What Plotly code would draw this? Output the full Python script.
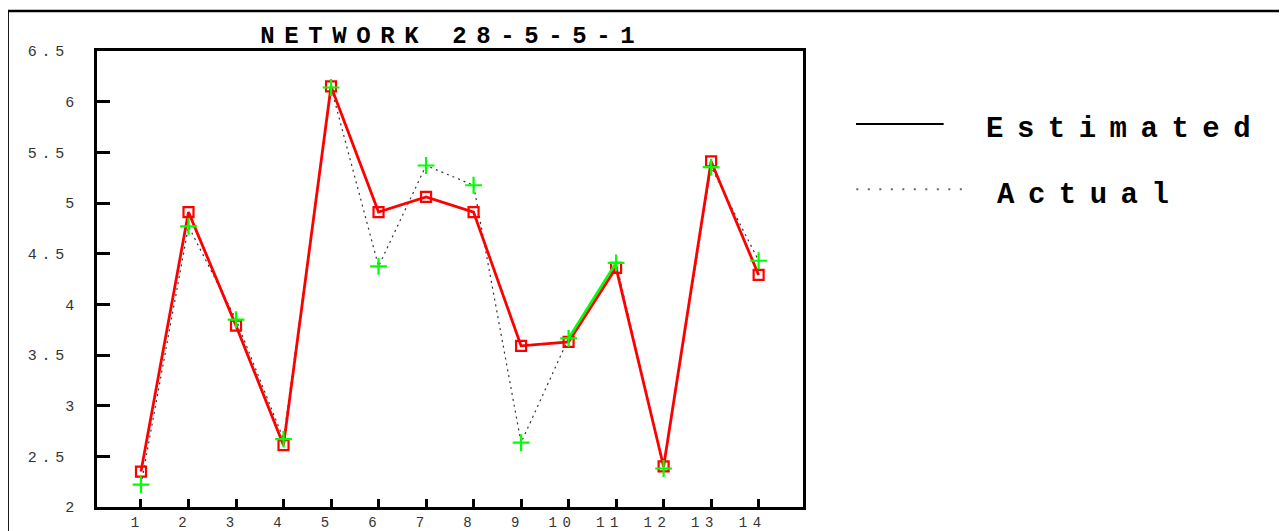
import plotly.graph_objects as go

# ---- data ----
samples = list(range(1, 15))
estimated = [2.35, 4.91, 3.79, 2.61, 6.15, 4.91, 5.06, 4.91, 3.59, 3.63, 4.36, 2.40, 5.41, 4.29]
actual = [2.22, 4.77, 3.85, 2.67, 6.14, 4.375, 5.37, 5.175, 2.635, 3.665, 4.41, 2.38, 5.355, 4.43]
x_tick_labels = ["1", "2", "3", "4", "5", "6", "7", "8", "9", "10", "11", "12", "13", "14"]
y_tick_values = [2, 2.5, 3, 3.5, 4, 4.5, 5, 5.5, 6, 6.5]
title_text = "NETWORK 28-5-5-1"
legend_names = ["Estimated", "Actual"]

# ---- layout geometry ----
OFF = 8  # default page body margin
W, H = 1287 - OFF, 531 - OFF
PL, PR, PT, PB = 97, 802.7, 51, 507  # plot box in window pixels
ML, MT = PL - OFF, PT - OFF
MR = W - (PR - OFF)
MB = H - (PB - OFF)
PW, PH = W - ML - MR, H - MT - MB
FONT = "Liberation Mono"


def px2x(px):
    return (px - OFF - ML) / PW


def py2y(py):
    return (H - MB - (py - OFF)) / PH


def spaced(s, ls):
    return f'<span style="letter-spacing:{ls}px">{s}</span>'


def xlab(s):
    return spaced(s, 5.6) if len(s) > 1 else s


def ylab(v):
    if float(v).is_integer():
        return str(int(v))
    t = f"{v:g}"
    return spaced(t[:-1], 4.7) + spaced(t[-1], 10)


fig = go.Figure()

# Actual: dotted line
fig.add_trace(go.Scatter(
    x=samples, y=actual, mode="lines", name=legend_names[1], showlegend=False,
    line=dict(color="#333333", width=1.2, dash="2px,4px"),
))
# Estimated: red line with open squares
fig.add_trace(go.Scatter(
    x=samples, y=estimated, mode="lines+markers", name=legend_names[0], showlegend=False,
    line=dict(color="#ff0000", width=2.8),
    marker=dict(symbol="square-open", size=10, color="#ff0000", line=dict(width=2.2, color="#ff0000")),
))
# green segment of actual between samples 10 and 11
fig.add_trace(go.Scatter(
    x=samples[9:11], y=actual[9:11], mode="lines", showlegend=False, hoverinfo="skip",
    line=dict(color="#00ff00", width=2.5),
))
# Actual markers
fig.add_trace(go.Scatter(
    x=samples, y=actual, mode="markers", name=legend_names[1] + " points", showlegend=False,
    marker=dict(symbol="cross-thin", size=12, color="#00ff00", line=dict(width=2.2, color="#00ff00")),
))

shapes = [
    # outer frame
    dict(type="line", xref="paper", yref="paper", x0=px2x(7.7), x1=px2x(7.7), y0=py2y(11), y1=py2y(560),
         line=dict(color="black", width=2.5)),
    dict(type="line", xref="paper", yref="paper", x0=px2x(7.7), x1=px2x(1320), y0=py2y(11), y1=py2y(11),
         line=dict(color="black", width=2.5)),
    # legend keys
    dict(type="line", xref="paper", yref="paper", x0=px2x(855.7), x1=px2x(943.3), y0=py2y(124), y1=py2y(124),
         line=dict(color="black", width=2)),
    dict(type="line", xref="paper", yref="paper", x0=px2x(856), x1=px2x(962), y0=py2y(189.3), y1=py2y(189.3),
         line=dict(color="#666666", width=2, dash="2px,9.5px")),
]

annotations = [
    dict(xref="paper", yref="paper", x=px2x(984), y=py2y(129.5), xanchor="left", yanchor="middle",
         text=spaced(legend_names[0], 13.5), showarrow=False,
         font=dict(family=FONT, size=29, color="black", weight="bold")),
    dict(xref="paper", yref="paper", x=px2x(995), y=py2y(195), xanchor="left", yanchor="middle",
         text=spaced(legend_names[1], 13.5), showarrow=False,
         font=dict(family=FONT, size=29, color="black", weight="bold")),
]

fig.update_layout(
    width=W, height=H,
    margin=dict(l=ML, r=MR, t=MT, b=MB, pad=0, autoexpand=False),
    paper_bgcolor="white", plot_bgcolor="white",
    showlegend=False,
    title=dict(text=spaced(title_text, 9.6), x=px2x(452), xref="paper", xanchor="center",
               y=1 - (34.5 - OFF) / H, yref="container", yanchor="middle", automargin=False,
               font=dict(family=FONT, size=24, color="black", weight="bold")),
    xaxis=dict(range=[0.074, 14.934], tickmode="array", tickvals=samples,
               ticktext=[xlab(s) for s in x_tick_labels],
               ticks="inside", ticklen=8, tickwidth=2.5, tickcolor="black",
               showline=True, linecolor="black", linewidth=2.5, mirror=True, automargin=False,
               showgrid=False, zeroline=False, ticklabelshift=-6, ticklabelstandoff=0,
               tickfont=dict(family=FONT, size=14, color="#333333")),
    yaxis=dict(range=[2, 6.5], tickmode="array", tickvals=y_tick_values,
               ticktext=[ylab(v) for v in y_tick_values],
               ticks="inside", ticklen=13, tickwidth=2.5, tickcolor="black",
               showline=True, linecolor="black", linewidth=2.5, mirror=True, automargin=False,
               showgrid=False, zeroline=False, ticklabelstandoff=17,
               tickfont=dict(family=FONT, size=15, color="#333333")),
    shapes=shapes,
    annotations=annotations,
)

fig.write_html("out.html")
